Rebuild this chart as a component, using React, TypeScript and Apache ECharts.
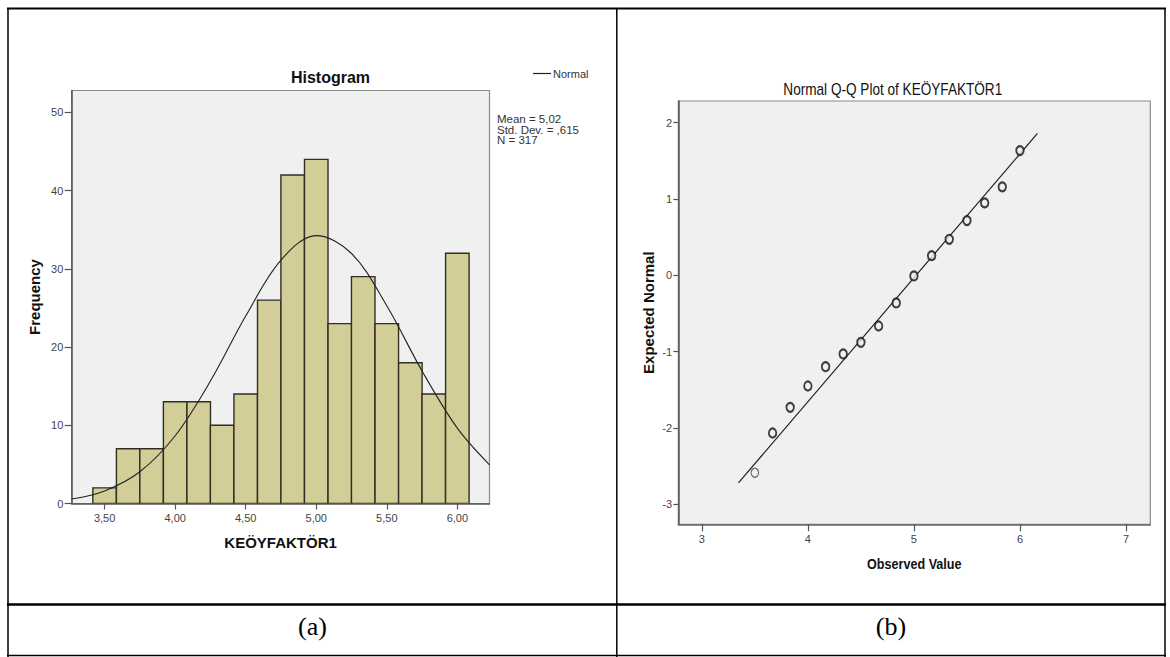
import React, { useEffect, useRef } from "react";
import * as echarts from "echarts";

// ---------- Histogram data ----------
const binCenters = [3.5, 3.667, 3.833, 4.0, 4.167, 4.333, 4.5, 4.667, 4.833, 5.0, 5.167, 5.333, 5.5, 5.667, 5.833, 6.0];
const binWidth = 0.1667;
const frequencies = [2, 7, 7, 13, 13, 10, 14, 26, 42, 44, 23, 29, 23, 18, 14, 32];
const histXTicks = [3.5, 4.0, 4.5, 5.0, 5.5, 6.0];
const histYTicks = [0, 10, 20, 30, 40, 50];
// Normal curve (Mean = 5,02; Std. Dev. = ,615; N = 317)
const normalX = [3.266, 3.5, 3.75, 4.0, 4.25, 4.5, 4.75, 5.0, 5.25, 5.5, 5.75, 6.0, 6.228];
const normalY = [0.57, 1.61, 4.06, 8.66, 15.65, 23.96, 31.12, 34.25, 31.96, 25.28, 16.94, 9.63, 4.95];
const statsLines = ["Mean = 5,02", "Std. Dev. = ,615", "N = 317"];

// ---------- Q-Q plot data ----------
const observedValues = [3.5, 3.667, 3.833, 4.0, 4.167, 4.333, 4.5, 4.667, 4.833, 5.0, 5.167, 5.333, 5.5, 5.667, 5.833, 6.0];
const expectedNormal = [-2.586, -2.066, -1.73, -1.45, -1.197, -1.03, -0.878, -0.664, -0.362, -0.008, 0.258, 0.472, 0.717, 0.949, 1.159, 1.634];
const refLineX = [3.345, 6.165];
const refLineY = [-2.72, 1.86];
const qqXTicks = [3, 4, 5, 6, 7];
const qqYTicks = [-3, -2, -1, 0, 1, 2];

const SANS = "'Liberation Sans', Arial, sans-serif";
const SERIF = "'Liberation Serif', 'Times New Roman', serif";

export default function App() {
  const ref = useRef<HTMLDivElement>(null);

  useEffect(() => {
    if (!ref.current) return;
    const chart = echarts.init(ref.current, undefined, { renderer: "svg" });

    const fmtComma = (v: number) => v.toFixed(2).replace(".", ",");

    const option: any = {
      animation: false,
      backgroundColor: "#ffffff",
      textStyle: { fontFamily: SANS },
      legend: {
        data: ["Normal"],
        left: 533,
        top: 68,
        icon: "rect",
        itemWidth: 18,
        itemHeight: 1.2,
        padding: 0,
        textStyle: { fontSize: 11, color: "#333", fontFamily: SANS, padding: [0, 0, 0, -3] },
      },
      grid: [
        {
          left: 71.6,
          top: 90.5,
          width: 417.9,
          height: 413,
          show: true,
          backgroundColor: "#f0f0f0",
          borderColor: "#8a8a8a",
          borderWidth: 1.2,
        },
        {
          left: 678.3,
          top: 101,
          width: 472,
          height: 423.3,
          show: true,
          backgroundColor: "#f0f0f0",
          borderColor: "#8a8a8a",
          borderWidth: 1.2,
        },
      ],
      xAxis: [
        {
          type: "value",
          gridIndex: 0,
          min: 3.266,
          max: 6.228,
          name: "KEÖYFAKTÖR1",
          nameLocation: "middle",
          nameGap: 31,
          nameTextStyle: { fontSize: 15, fontWeight: "bold", color: "#111", fontFamily: SANS },
          axisLine: { show: true, onZero: false, lineStyle: { color: "#555", width: 1.5 } },
          axisTick: { show: true, length: 6, customValues: histXTicks, lineStyle: { color: "#555", width: 1.2 } },
          axisLabel: {
            customValues: histXTicks,
            formatter: (v: number) => fmtComma(v),
            fontSize: 11,
            color: "#444",
            margin: 9,
          },
          splitLine: { show: false },
        },
        {
          type: "value",
          gridIndex: 1,
          min: 2.778,
          max: 7.229,
          axisLine: { show: true, onZero: false, lineStyle: { color: "#666", width: 1.5 } },
          axisTick: { show: true, length: 7, customValues: qqXTicks, lineStyle: { color: "#555", width: 1.2 } },
          axisLabel: { customValues: qqXTicks, fontSize: 11, color: "#444", margin: 9.5 },
          splitLine: { show: false },
        },
      ],
      yAxis: [
        {
          type: "value",
          gridIndex: 0,
          min: 0,
          max: 52.8,
          name: "Frequency",
          nameLocation: "middle",
          nameGap: 30,
          nameTextStyle: { fontSize: 15, fontWeight: "bold", color: "#111", fontFamily: SANS },
          axisLine: { show: true, onZero: false, lineStyle: { color: "#555", width: 1.5 } },
          axisTick: { show: true, length: 7, customValues: histYTicks, lineStyle: { color: "#555", width: 1.2 } },
          axisLabel: { customValues: histYTicks, fontSize: 11, color: "#444", margin: 8.3 },
          splitLine: { show: false },
        },
        {
          type: "value",
          gridIndex: 1,
          min: -3.262,
          max: 2.284,
          axisLine: { show: true, onZero: false, lineStyle: { color: "#555", width: 1.5 } },
          axisTick: { show: true, length: 5, customValues: qqYTicks, lineStyle: { color: "#555", width: 1.2 } },
          axisLabel: { customValues: qqYTicks, fontSize: 11, color: "#444", margin: 6.3 },
          splitLine: { show: false },
        },
      ],
      series: [
        {
          type: "custom",
          name: "Frequency",
          xAxisIndex: 0,
          yAxisIndex: 0,
          z: 2,
          clip: true,
          encode: { x: 0, y: 1 },
          data: binCenters.map((c, i) => [c, frequencies[i]]),
          renderItem: (params: any, api: any) => {
            const c = api.value(0);
            const f = api.value(1);
            const p0 = api.coord([c - binWidth / 2, f]);
            const p1 = api.coord([c + binWidth / 2, 0]);
            return {
              type: "rect",
              shape: { x: p0[0], y: p0[1], width: p1[0] - p0[0], height: p1[1] - p0[1] },
              style: { fill: "#d3ce97", stroke: "#2e2e22", lineWidth: 1.4 },
            };
          },
        },
        {
          type: "line",
          name: "Normal",
          xAxisIndex: 0,
          yAxisIndex: 0,
          z: 3,
          smooth: 0.35,
          showSymbol: false,
          symbol: "none",
          clip: true,
          data: normalX.map((x, i) => [x, normalY[i]]),
          lineStyle: { color: "#222", width: 1.1 },
          itemStyle: { color: "#222" },
        },
        {
          type: "line",
          name: "Reference",
          xAxisIndex: 1,
          yAxisIndex: 1,
          z: 2,
          showSymbol: false,
          symbol: "none",
          data: refLineX.map((x, i) => [x, refLineY[i]]),
          lineStyle: { color: "#222", width: 1.2 },
        },
        {
          type: "scatter",
          name: "Observed",
          xAxisIndex: 1,
          yAxisIndex: 1,
          z: 3,
          symbol: "circle",
          symbolSize: [7.5, 9],
          data: observedValues.map((x, i) => ({
            value: [x, expectedNormal[i]],
            itemStyle: i === 0 ? { borderWidth: 1.2, borderColor: "#444" } : undefined,
          })),
          itemStyle: { color: "#f0f0f0", borderColor: "#111", borderWidth: 2 },
        },
      ],
      graphic: [
        // table frame
        { type: "line", shape: { x1: 7, y1: 8.5, x2: 1166, y2: 8.5 }, style: { stroke: "#000", lineWidth: 2 } },
        { type: "line", shape: { x1: 8, y1: 8, x2: 8, y2: 657 }, style: { stroke: "#000", lineWidth: 1.5 } },
        { type: "line", shape: { x1: 616.8, y1: 8, x2: 616.8, y2: 657 }, style: { stroke: "#000", lineWidth: 1.5 } },
        { type: "line", shape: { x1: 1165, y1: 8, x2: 1165, y2: 657 }, style: { stroke: "#000", lineWidth: 1.5 } },
        { type: "line", shape: { x1: 7, y1: 604.5, x2: 1166, y2: 604.5 }, style: { stroke: "#000", lineWidth: 2.5 } },
        { type: "line", shape: { x1: 7, y1: 655.5, x2: 1166, y2: 655.5 }, style: { stroke: "#000", lineWidth: 1.5 } },
        // panel captions
        {
          type: "text",
          x: 312.5,
          y: 626,
          style: { text: "(a)", x: 0, y: 0, align: "center", verticalAlign: "middle", font: `26px ${SERIF}`, fill: "#000" },
        },
        {
          type: "text",
          x: 891,
          y: 626,
          style: { text: "(b)", x: 0, y: 0, align: "center", verticalAlign: "middle", font: `26px ${SERIF}`, fill: "#000" },
        },
        // histogram title
        {
          type: "text",
          x: 330.5,
          y: 77.5,
          style: { text: "Histogram", x: 0, y: 0, align: "center", verticalAlign: "middle", font: `bold 16px ${SANS}`, fill: "#111" },
        },
        // stats (one text per line so lines never overlap)
        ...statsLines.map((line, i) => ({
          type: "text",
          x: 497,
          y: 119 + i * 10.5,
          style: {
            text: line,
            x: 0,
            y: 0,
            align: "left",
            verticalAlign: "middle",
            font: `11.5px ${SANS}`,
            fill: "#333",
          },
        })),
        // Q-Q title
        {
          type: "text",
          x: 892.8,
          y: 89.5,
          scaleX: 0.85,
          style: { text: "Normal Q-Q Plot of KEÖYFAKTÖR1", x: 0, y: 0, align: "center", verticalAlign: "middle", font: `16px ${SANS}`, fill: "#111" },
        },
        {
          type: "text",
          x: 914.3,
          y: 564,
          scaleX: 0.84,
          style: { text: "Observed Value", x: 0, y: 0, align: "center", verticalAlign: "middle", font: `bold 15px ${SANS}`, fill: "#111" },
        },
        {
          type: "text",
          x: 648.4,
          y: 312.7,
          rotation: Math.PI / 2,
          style: { text: "Expected Normal", x: 0, y: 0, align: "center", verticalAlign: "middle", font: `bold 15px ${SANS}`, fill: "#111" },
        },
      ],
    };

    chart.setOption(option);
    return () => chart.dispose();
  }, []);

  return (
    <div
      ref={ref}
      style={{ position: "fixed", left: 0, top: 0, width: 1170, height: 657, background: "#fff" }}
    />
  );
}
